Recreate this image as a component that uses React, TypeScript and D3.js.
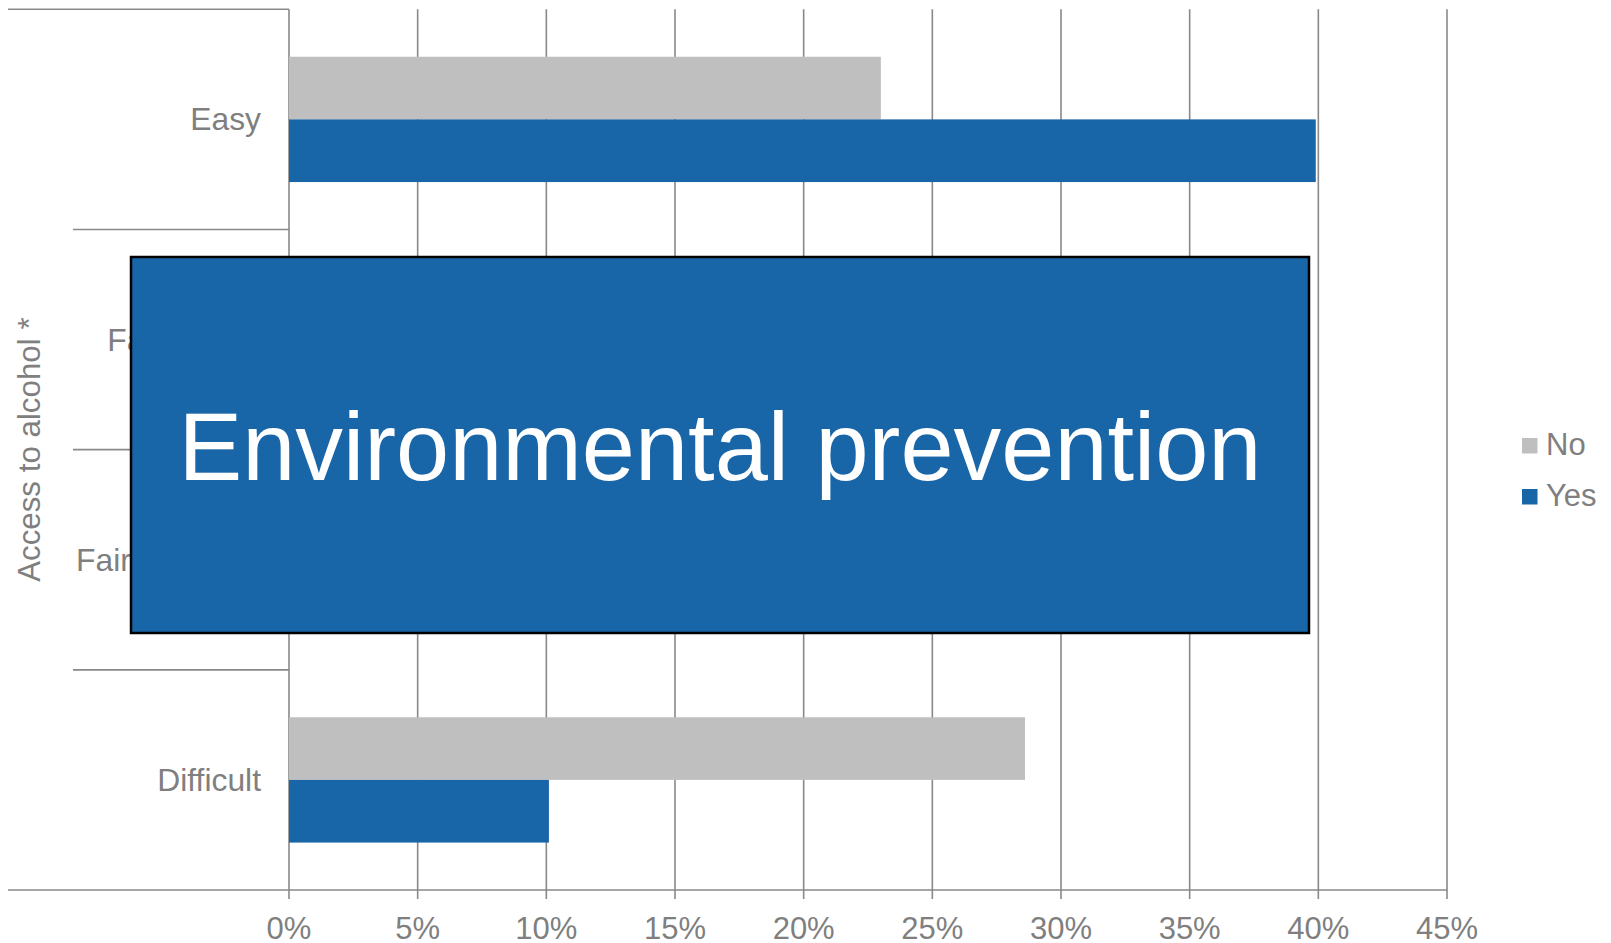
import React from "react";
import * as d3 from "d3";

// Share of respondents by perceived access to alcohol, split by answer
const categories = ["Easy", "Fairly easy", "Fairly difficult", "Difficult"];
const seriesNames = ["No", "Yes"];
const noValues = [0.23, 0.26, 0.224, 0.286];
const yesValues = [0.399, 0.33, 0.17, 0.101];
const xTicks = [0, 0.05, 0.1, 0.15, 0.2, 0.25, 0.3, 0.35, 0.4, 0.45];
const groupLabel = "Access to alcohol *";
const bannerText = "Environmental prevention";

const W = 1611;
const H = 943;
const FONT = "'Liberation Sans', Arial, sans-serif";
const TEXT = "#7f7f7f";
const LINE = "#898989";
const COLORS: Record<string, string> = { No: "#bfbfbf", Yes: "#1865a7" };

export default function App() {
  const plotLeft = 289;
  const plotRight = 1447;
  const plotTop = 9.3;
  const plotBottom = 890;
  const outerLeft = 8;
  const innerLeft = 73;

  const x = d3.scaleLinear().domain([0, 0.45]).range([plotLeft, plotRight]);
  const y = d3.scaleBand<string>().domain(categories).range([plotTop, plotBottom]);
  const sub = d3
    .scaleBand<string>()
    .domain(seriesNames)
    .range([0, y.bandwidth()])
    .paddingInner(0)
    .paddingOuter(0.757);

  const values: Record<string, number[]> = { No: noValues, Yes: yesValues };
  const fmt = d3.format(".0%");

  const bands = categories.map((c) => y(c) as number);
  const separators = [plotTop, ...bands.slice(1), plotBottom];

  return (
    <svg
      width={W}
      height={H}
      style={{ position: "absolute", left: 0, top: 0, background: "#fff" }}
      fontFamily={FONT}
    >
      {/* vertical gridlines with ticks below the axis */}
      {xTicks.map((t) => (
        <line
          key={`g${t}`}
          x1={x(t)}
          x2={x(t)}
          y1={plotTop}
          y2={plotBottom + 9}
          stroke={LINE}
          strokeWidth={1.6}
        />
      ))}

      {/* category separators */}
      {separators.map((s, i) => (
        <line
          key={`s${i}`}
          x1={i === 0 || i === separators.length - 1 ? outerLeft : innerLeft}
          x2={i === separators.length - 1 ? plotRight : plotLeft}
          y1={s}
          y2={s}
          stroke={LINE}
          strokeWidth={1.6}
        />
      ))}

      {/* bars */}
      {categories.map((c, ci) =>
        seriesNames.map((s) => (
          <rect
            key={`${c}-${s}`}
            x={x(0)}
            y={(y(c) as number) + (sub(s) as number)}
            width={x(values[s][ci]) - x(0)}
            height={sub.bandwidth()}
            fill={COLORS[s]}
          />
        ))
      )}

      {/* category labels */}
      {categories.map((c) => (
        <text
          key={`l${c}`}
          x={261}
          y={(y(c) as number) + y.bandwidth() / 2 + 11}
          textAnchor="end"
          fontSize={31.8}
          fill={TEXT}
        >
          {c}
        </text>
      ))}

      {/* outer group label */}
      <text
        transform={`translate(40, ${(plotTop + plotBottom) / 2}) rotate(-90)`}
        textAnchor="middle"
        fontSize={31.3}
        fill={TEXT}
      >
        {groupLabel}
      </text>

      {/* x tick labels */}
      {xTicks.map((t) => (
        <text
          key={`t${t}`}
          x={x(t)}
          y={939}
          textAnchor="middle"
          fontSize={31}
          fill={TEXT}
        >
          {fmt(t)}
        </text>
      ))}

      {/* legend */}
      {seriesNames.map((s, i) => (
        <g key={`lg${s}`} transform={`translate(1522, ${438 + i * 51})`}>
          <rect x={0} y={0} width={15.5} height={15.5} fill={COLORS[s]} />
          <text x={24} y={17} fontSize={31} fill={TEXT}>
            {s}
          </text>
        </g>
      ))}

      {/* banner */}
      <rect
        x={131}
        y={257}
        width={1178}
        height={376}
        fill="#1865a7"
        stroke="#000"
        strokeWidth={2.5}
      />
      <text
        x={720}
        y={480}
        textAnchor="middle"
        fontSize={95.5}
        fill="#fff"
      >
        {bannerText}
      </text>
    </svg>
  );
}
